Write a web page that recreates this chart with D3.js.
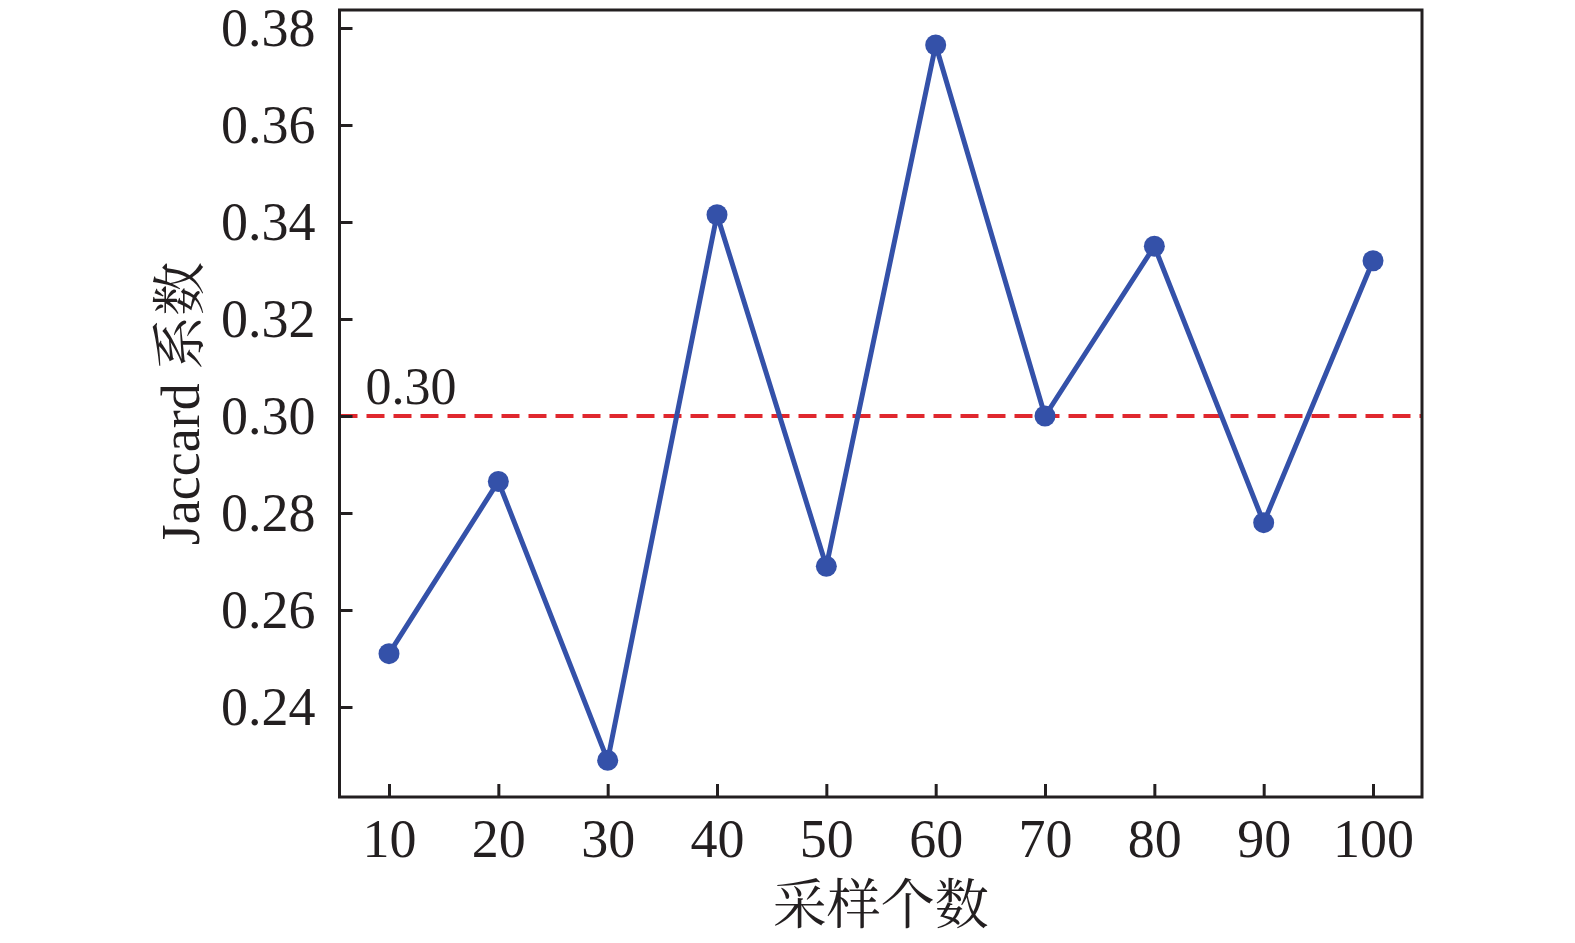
<!DOCTYPE html>
<html>
<head>
<meta charset="utf-8">
<script src="https://cdn.jsdelivr.net/npm/d3@7"></script>
<style>
  html, body { margin: 0; padding: 0; background: #fff; }
  svg { display: block; }
</style>
</head>
<body>
<svg id="chart" width="1575" height="943"></svg>
<script>
// ---- data ----
const sampleCounts = [10, 20, 30, 40, 50, 60, 70, 80, 90, 100];
const jaccardValues = [0.251, 0.2865, 0.229, 0.3415, 0.269, 0.3765, 0.300, 0.335, 0.278, 0.332];
const yTickValues = [0.24, 0.26, 0.28, 0.30, 0.32, 0.34, 0.36, 0.38];
const xTickValues = [10, 20, 30, 40, 50, 60, 70, 80, 90, 100];
const thresholdValue = 0.30;
const thresholdLabel = "0.30";
const xAxisTitle = "采样个数";
const yAxisTitle = "Jaccard 系数";

// ---- layout ----
const plotLeft = 339.5, plotRight = 1422, plotTop = 10, plotBottom = 797;
const svg = d3.select("#chart");
const serif = "'Liberation Serif', 'Times New Roman', 'DejaVu Serif', serif";
const cjk = "'Liberation Serif', 'Noto Serif CJK SC', 'Noto Sans CJK SC', serif";
const ink = "#231f20";

const x = d3.scaleLinear().domain([5.472, 104.48]).range([plotLeft, plotRight]);
const y = d3.scaleLinear().domain([0.22144, 0.38371]).range([plotBottom, plotTop]);

// ---- threshold line ----
svg.append("line")
  .attr("x1", plotLeft).attr("x2", plotRight)
  .attr("y1", y(thresholdValue)).attr("y2", y(thresholdValue))
  .attr("stroke", "#e0282e").attr("stroke-width", 4)
  .attr("stroke-dasharray", "18,9");

svg.append("text")
  .attr("x", plotLeft + 26).attr("y", y(thresholdValue) - 12)
  .attr("font-family", serif).attr("font-size", 52).attr("fill", ink)
  .text(thresholdLabel);

// ---- series ----
const pts = sampleCounts.map((c, i) => ({ c, v: jaccardValues[i] }));
svg.append("path")
  .datum(pts)
  .attr("fill", "none")
  .attr("stroke", "#3451a9")
  .attr("stroke-width", 5)
  .attr("stroke-linejoin", "round")
  .attr("d", d3.line().x(d => x(d.c)).y(d => y(d.v)));

svg.selectAll("circle.pt")
  .data(pts).enter().append("circle")
  .attr("class", "pt")
  .attr("cx", d => x(d.c)).attr("cy", d => y(d.v))
  .attr("r", 10.5)
  .attr("fill", "#3451a9");

// ---- axes ----
const yAxis = d3.axisLeft(y).tickValues(yTickValues).tickSize(-13).tickPadding(24)
  .tickFormat(d3.format(".2f"));
const gy = svg.append("g").attr("transform", `translate(${plotLeft},0)`).call(yAxis);
gy.select(".domain").remove();
gy.selectAll(".tick line").attr("stroke", ink).attr("stroke-width", 3);
gy.selectAll(".tick text")
  .attr("font-family", serif).attr("font-size", 54).attr("fill", ink)
  .attr("dy", "0.33em");

const xAxis = d3.axisBottom(x).tickValues(xTickValues).tickSize(-13).tickPadding(22)
  .tickFormat(d3.format("d"));
const gx = svg.append("g").attr("transform", `translate(0,${plotBottom})`).call(xAxis);
gx.select(".domain").remove();
gx.selectAll(".tick line").attr("stroke", ink).attr("stroke-width", 3);
gx.selectAll(".tick text")
  .attr("font-family", serif).attr("font-size", 54).attr("fill", ink)
  .attr("dy", "0.71em");

// ---- frame ----
svg.append("rect")
  .attr("x", plotLeft).attr("y", plotTop)
  .attr("width", plotRight - plotLeft).attr("height", plotBottom - plotTop)
  .attr("fill", "none").attr("stroke", ink).attr("stroke-width", 3);

// ---- titles ----
svg.append("text")
  .attr("x", (plotLeft + plotRight) / 2).attr("y", 924)
  .attr("text-anchor", "middle")
  .attr("font-family", cjk).attr("font-size", 54).attr("fill", ink)
  .text(xAxisTitle);

svg.append("text")
  .attr("transform", `translate(199,${(plotTop + plotBottom) / 2}) rotate(-90)`)
  .attr("text-anchor", "middle")
  .attr("font-family", cjk).attr("font-size", 54).attr("fill", ink)
  .text(yAxisTitle);
</script>
</body>
</html>
